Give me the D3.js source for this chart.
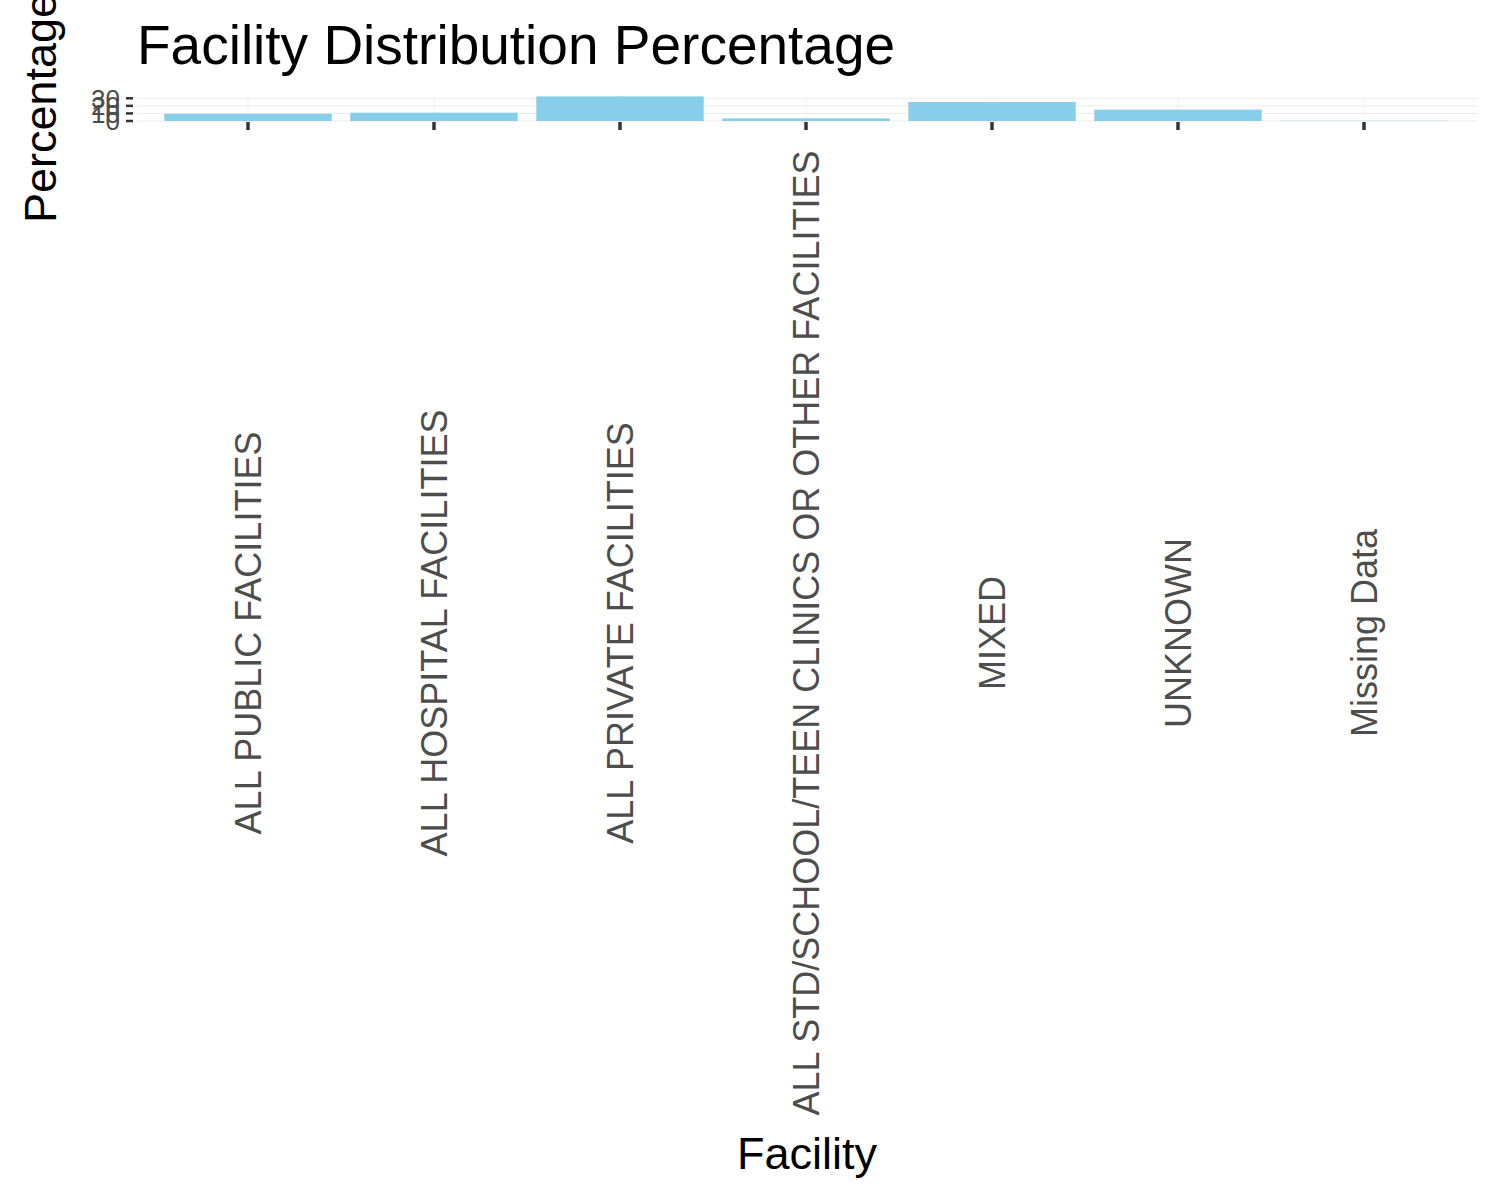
<!DOCTYPE html>
<html><head><meta charset="utf-8">
<script src="https://cdn.jsdelivr.net/npm/d3@7"></script>
<style>body{margin:0;background:#fff}text{font-family:"Liberation Sans",Arial,sans-serif}</style>
</head><body><svg id="plot" width="1500" height="1200"></svg>
<script>
// values
const facilities = ["ALL PUBLIC FACILITIES", "ALL HOSPITAL FACILITIES", "ALL PRIVATE FACILITIES",
  "ALL STD/SCHOOL/TEEN CLINICS OR OTHER FACILITIES", "MIXED", "UNKNOWN", "Missing Data"];
const percents = [9.5, 11, 32.5, 3.5, 25, 15, 0.3];
const yTicks = [0, 10, 20, 30];

const svg = d3.select("#plot");
const panel = { left: 137, right: 1478, top: 96, bottom: 121 };

const x = d3.scaleBand().domain(facilities).range([155, 1457]).paddingInner(0.1).paddingOuter(0.05);
const y = d3.scaleLinear().domain([0, 33]).range([panel.bottom, panel.top]);

// grid
const g = svg.append("g");
g.selectAll(".gy").data(yTicks).enter().append("line")
  .attr("x1", panel.left).attr("x2", panel.right)
  .attr("y1", d => y(d)).attr("y2", d => y(d))
  .attr("stroke", "#ebebeb").attr("stroke-width", 1);
g.selectAll(".gx").data(facilities).enter().append("line")
  .attr("x1", d => x(d) + x.bandwidth() / 2).attr("x2", d => x(d) + x.bandwidth() / 2)
  .attr("y1", panel.top).attr("y2", panel.bottom)
  .attr("stroke", "#f2f2f2").attr("stroke-width", 1);

// bars
g.selectAll(".bar").data(facilities).enter().append("rect")
  .attr("x", d => x(d)).attr("width", x.bandwidth())
  .attr("y", (d, i) => y(percents[i]))
  .attr("height", (d, i) => y(0) - y(percents[i]))
  .attr("fill", "#87ceeb");

// y axis
const ya = svg.append("g");
ya.selectAll("line").data(yTicks).enter().append("line")
  .attr("x1", 126).attr("x2", 133).attr("y1", d => y(d)).attr("y2", d => y(d))
  .attr("stroke", "#333").attr("stroke-width", 2.5);
ya.selectAll("text").data(yTicks).enter().append("text")
  .attr("x", 120).attr("y", d => y(d)).attr("dy", "0.36em")
  .attr("text-anchor", "end").attr("font-size", 26).attr("fill", "#4d4d4d")
  .text(d => d);

// x axis
const xa = svg.append("g");
xa.selectAll("line").data(facilities).enter().append("line")
  .attr("x1", d => x(d) + x.bandwidth() / 2).attr("x2", d => x(d) + x.bandwidth() / 2)
  .attr("y1", 122).attr("y2", 130)
  .attr("stroke", "#333").attr("stroke-width", 3.5);
xa.selectAll("text").data(facilities).enter().append("text")
  .attr("transform", d => `translate(${x(d) + x.bandwidth() / 2 + 13},633) rotate(-90)`)
  .attr("text-anchor", "middle").attr("font-size", 36).attr("fill", "#4d4d4d")
  .text(d => d);

// titles
svg.append("text").attr("x", 137).attr("y", 64).attr("font-size", 55).attr("fill", "#000")
  .text("Facility Distribution Percentage");
svg.append("text").attr("x", 807).attr("y", 1169).attr("text-anchor", "middle")
  .attr("font-size", 45).attr("fill", "#000").text("Facility");
svg.append("text").attr("transform", "translate(56,108) rotate(-90)").attr("text-anchor", "middle")
  .attr("font-size", 45).attr("fill", "#000").text("Percentage");
</script></body></html>
